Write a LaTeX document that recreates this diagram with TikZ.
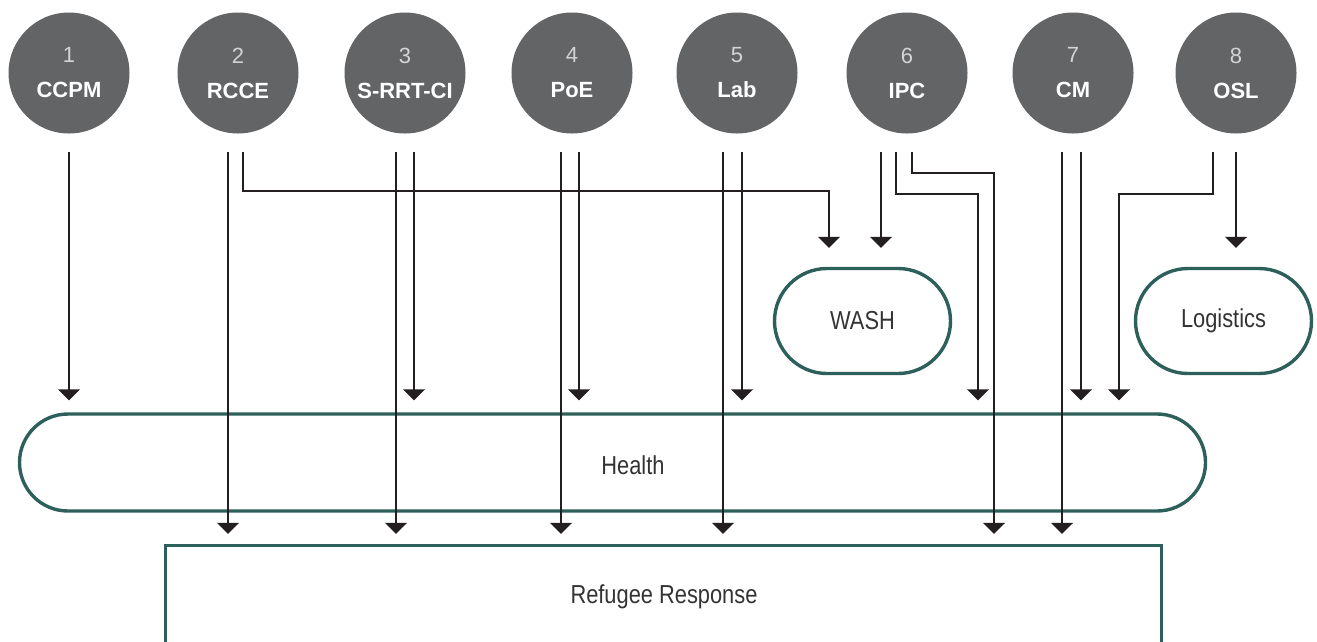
\documentclass[tikz,border=0pt]{standalone}
\usepackage{fontspec}
\setmainfont{Liberation Sans}
\newfontfamily\condfont[FakeStretch=0.84]{Liberation Sans}
\usetikzlibrary{arrows.meta,shapes.misc,calc}
\definecolor{circfill}{HTML}{636466}
\definecolor{tealbd}{HTML}{2D5F5B}
\definecolor{ink}{HTML}{231F20}
\definecolor{numgray}{HTML}{D4D4D4}
\definecolor{txt}{HTML}{333333}
\begin{document}
\begin{tikzpicture}[x=1pt,y=-1pt,
  topic/.style={circle, fill=circfill, minimum size=121pt, inner sep=0pt, align=center,
    text=white, font=\fontsize{22}{26}\selectfont},
  pill/.style={rounded rectangle, draw=tealbd, line width=3.4pt, inner sep=0pt,
    font=\condfont\fontsize{26}{30}\selectfont, text=txt},
  boxlbl/.style={font=\condfont\fontsize{26}{30}\selectfont, text=txt, inner sep=0pt},
  conn/.style={draw=ink, line width=1.8pt, -{Triangle[width=22pt,length=11pt]}},
  toH/.style={conn, shorten >=12pt},
  toR/.style={conn, shorten >=10pt},
  toW/.style={conn, shorten >=19pt}]
\useasboundingbox (0,0) rectangle (1317,641);
\clip (0,0) rectangle (1317,641);

% topic circles
\node[topic] (c1) at (69,73)   {{\color{numgray}1}\\[9pt]\textbf{CCPM}};
\node[topic] (c2) at (238,73)  {{\color{numgray}2}\\[9pt]\textbf{RCCE}};
\node[topic] (c3) at (405,73)  {{\color{numgray}3}\\[9pt]\textbf{S-RRT-CI}};
\node[topic] (c4) at (572,73)  {{\color{numgray}4}\\[9pt]\textbf{PoE}};
\node[topic] (c5) at (737,73)  {{\color{numgray}5}\\[9pt]\textbf{Lab}};
\node[topic] (c6) at (907,73)  {{\color{numgray}6}\\[9pt]\textbf{IPC}};
\node[topic] (c7) at (1073,73) {{\color{numgray}7}\\[9pt]\textbf{CM}};
\node[topic] (c8) at (1236,73) {{\color{numgray}8}\\[9pt]\textbf{OSL}};

% target boxes
\node[pill, minimum width=176pt, minimum height=105pt] (wash) at (862.5,321) {WASH};
\node[pill, minimum width=176pt, minimum height=105pt] (logi) at (1223.5,321) {Logistics};
\node[pill, minimum width=1186pt, minimum height=97pt] (health) at (612.5,462.5) {};
\node[boxlbl] (hlbl) at (633,465) {Health};
\node[rectangle, draw=tealbd, line width=3.4pt, minimum width=996pt, minimum height=200pt,
  inner sep=0pt] (ref) at (663.5,645.5) {};
\node[boxlbl] (rlbl) at (664,597) {Refugee Response};

% connector start points
\coordinate (s1)  at (69,152);
\coordinate (s2a) at (228,152);
\coordinate (s2b) at (243,152);
\coordinate (s3a) at (396,152);
\coordinate (s3b) at (414,152);
\coordinate (s4a) at (561,152);
\coordinate (s4b) at (579,152);
\coordinate (s5a) at (723,152);
\coordinate (s5b) at (742,152);
\coordinate (s6a) at (881,152);
\coordinate (s6b) at (896,152);
\coordinate (s6c) at (912,152);
\coordinate (s7a) at (1062,152);
\coordinate (s7b) at (1081,152);
\coordinate (s8a) at (1213,152);
\coordinate (s8b) at (1236,152);
% bend points
\coordinate (k2)  at (829,191);
\coordinate (k6b) at (978,194);
\coordinate (k6c) at (994,173);
\coordinate (k8)  at (1119,194);

% connectors
\draw[toH] (s1) -- (s1 |- health.north);
\draw[toR] (s2a) -- (s2a |- ref.north);
\draw[toW] (s2b) |- (k2) -- (k2 |- wash.north);
\draw[toR] (s3a) -- (s3a |- ref.north);
\draw[toH] (s3b) -- (s3b |- health.north);
\draw[toR] (s4a) -- (s4a |- ref.north);
\draw[toH] (s4b) -- (s4b |- health.north);
\draw[toR] (s5a) -- (s5a |- ref.north);
\draw[toH] (s5b) -- (s5b |- health.north);
\draw[toW] (s6a) -- (s6a |- wash.north);
\draw[toH] (s6b) |- (k6b) -- (k6b |- health.north);
\draw[toR] (s6c) |- (k6c) -- (k6c |- ref.north);
\draw[toR] (s7a) -- (s7a |- ref.north);
\draw[toH] (s7b) -- (s7b |- health.north);
\draw[toH] (s8a) |- (k8) -- (k8 |- health.north);
\draw[toW] (s8b) -- (s8b |- logi.north);
\end{tikzpicture}
\end{document}
